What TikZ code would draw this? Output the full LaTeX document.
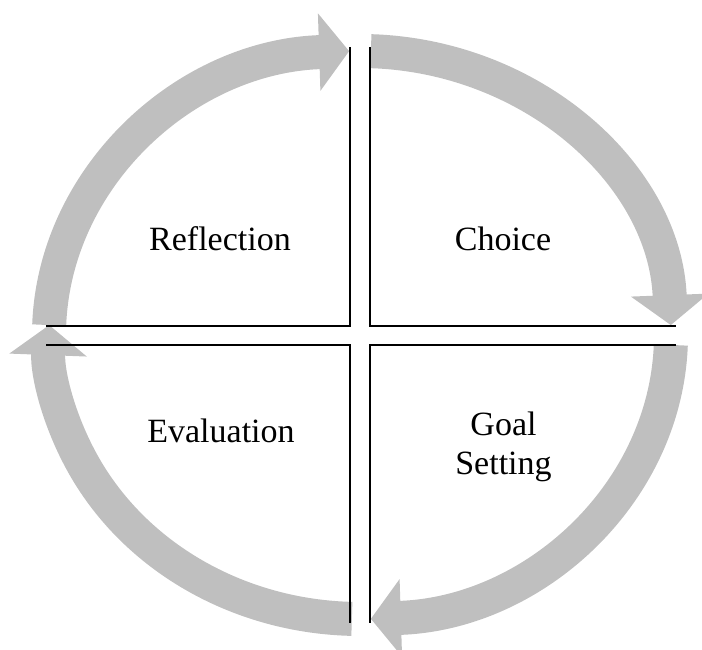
\documentclass[tikz,border=0pt]{standalone}
\usepackage{fontspec}
\setmainfont{Liberation Serif}
\usetikzlibrary{arrows.meta}

\begin{document}
\begin{tikzpicture}
[x=1pt, y=1pt,
    cycle arrow/.style={line width=34pt, draw=black!25, -{Triangle[width=76pt, length=30pt]}},
    divider/.style={line width=1.8pt, draw=black},
    stage/.style={font=\fontsize{34}{39}\selectfont, align=center, anchor=base, inner sep=0pt}]
\useasboundingbox (-360,-315) rectangle (342,335);
\draw [cycle arrow] (178:311pt and 284pt) arc [start angle=178, end angle=92, x radius=311pt, y radius=284pt];
\draw [cycle arrow] (88:311pt and 284pt) arc [start angle=88, end angle=2, x radius=311pt, y radius=284pt];
\draw [cycle arrow] (-2:311pt and 284pt) arc [start angle=-2, end angle=-88, x radius=311pt, y radius=284pt];
\draw [cycle arrow] (-91.5:311pt and 284pt) arc [start angle=-91.5, end angle=-182, x radius=311pt, y radius=284pt];
\draw [divider] (-314,9) -- (-10,9) -- (-10,288);
\draw [divider] (10,288) -- (10,9) -- (316,9);
\draw [divider] (316,-10) -- (10,-10) -- (10,-288);
\draw [divider] (-10,-288) -- (-10,-10) -- (-314,-10);
\node [stage] (reflection) at (-140,84) {Reflection};
\node [stage] (choice) at (143,84) {Choice};
\node [stage] (evaluation) at (-139,-108) {Evaluation};
\node [stage, anchor=north] (goal) at (143.5,-77) {Goal\\Setting};
\end{tikzpicture}
\end{document}
